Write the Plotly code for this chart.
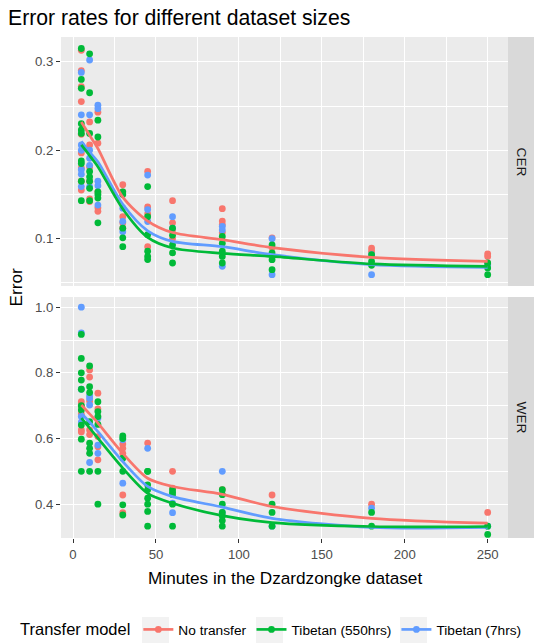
import plotly.graph_objects as go

# ---------------- data ----------------
minutes_curve = [5, 10, 15, 30, 45, 60, 90, 120, 180, 250]
series_names = ["No transfer", "Tibetan (550hrs)", "Tibetan (7hrs)"]
series_colors = ["#F8766D", "#00BA38", "#619CFF"]

# CER points
cer_notr_x = [5]*9 + [10]*6 + [15]*5 + [30]*5 + [45]*4 + [60]*4 + [90]*4 + [120]*2 + [180]*2 + [250]*3
cer_notr_y = [0.313, 0.290, 0.272, 0.255, 0.218, 0.197, 0.180, 0.165, 0.155,
              0.232, 0.206, 0.181, 0.165, 0.145, 0.142,
              0.243, 0.208, 0.153, 0.135, 0.131,
              0.161, 0.153, 0.125, 0.118, 0.112,
              0.176, 0.136, 0.128, 0.091,
              0.143, 0.118, 0.110, 0.100,
              0.134, 0.120, 0.116, 0.107,
              0.101, 0.090,
              0.0895, 0.086,
              0.083, 0.080, 0.072]
cer_t550_x = [5]*10 + [10]*8 + [15]*6 + [30]*5 + [45]*6 + [60]*5 + [90]*5 + [120]*4 + [180]*3 + [250]*3
cer_t550_y = [0.315, 0.280, 0.270, 0.230, 0.223, 0.219, 0.188, 0.185, 0.165, 0.143,
              0.309, 0.265, 0.219, 0.176, 0.170, 0.165, 0.157, 0.143,
              0.234, 0.215, 0.153, 0.150, 0.146, 0.118,
              0.153, 0.150, 0.112, 0.101, 0.091,
              0.159, 0.125, 0.1045, 0.086, 0.080, 0.0765,
              0.112, 0.104, 0.093, 0.084, 0.0726,
              0.1026, 0.095, 0.086, 0.080, 0.0726,
              0.093, 0.084, 0.0763, 0.065,
              0.082, 0.0744, 0.070,
              0.0726, 0.067, 0.0594]
cer_t7_x = [5]*7 + [10]*6 + [15]*5 + [30]*3 + [45]*3 + [60]*2 + [90]*3 + [120]*2 + [180]*2 + [250]*1
cer_t7_y = [0.288, 0.240, 0.206, 0.200, 0.178, 0.173, 0.159,
            0.302, 0.240, 0.200, 0.191, 0.183, 0.159,
            0.251, 0.247, 0.165, 0.160, 0.138,
            0.1345, 0.1195, 0.108,
            0.172, 0.133, 0.1195,
            0.125, 0.112,
            0.114, 0.110, 0.0688,
            0.100, 0.0594,
            0.082, 0.0594,
            0.0707]

# WER points
wer_notr_x = [5]*5 + [10]*5 + [15]*5 + [30]*5 + [45]*1 + [60]*2 + [90]*1 + [120]*1 + [180]*1 + [250]*1
wer_notr_y = [0.712, 0.700, 0.675, 0.626, 0.620,
              0.809, 0.787, 0.714, 0.626, 0.612,
              0.738, 0.690, 0.606, 0.575, 0.535,
              0.583, 0.570, 0.555, 0.428, 0.374,
              0.586,
              0.500, 0.449,
              0.444,
              0.428,
              0.400,
              0.375]
wer_t550_x = [5]*10 + [10]*8 + [15]*6 + [30]*6 + [45]*8 + [60]*5 + [90]*7 + [120]*3 + [180]*2 + [250]*2
wer_t550_y = [0.917, 0.844, 0.800, 0.778, 0.750, 0.700, 0.687, 0.641, 0.598, 0.500,
              0.821, 0.758, 0.740, 0.651, 0.586, 0.570, 0.555, 0.500,
              0.712, 0.682, 0.667, 0.643, 0.500, 0.400,
              0.608, 0.600, 0.540, 0.500, 0.398, 0.367,
              0.500, 0.500, 0.459, 0.444, 0.418, 0.400, 0.378, 0.333,
              0.444, 0.436, 0.429, 0.400, 0.333,
              0.444, 0.429, 0.400, 0.375, 0.364, 0.350, 0.333,
              0.400, 0.375, 0.333,
              0.375, 0.333,
              0.333, 0.308]
wer_t7_x = [5]*5 + [10]*4 + [15]*3 + [30]*2 + [45]*1 + [60]*2 + [90]*2 + [120]*1 + [180]*1 + [250]*1
wer_t7_y = [1.000, 0.922, 0.750, 0.667, 0.650,
            0.730, 0.722, 0.702, 0.527,
            0.662, 0.580, 0.555,
            0.596, 0.464,
            0.570,
            0.403, 0.374,
            0.500, 0.375,
            0.333,
            0.388,
            0.333]

# smoothed (loess) curves
cer_notr_fit = [0.232, 0.217, 0.202, 0.147, 0.120, 0.107, 0.099, 0.090, 0.079, 0.0744]
cer_t550_fit = [0.206, 0.194, 0.1815, 0.1337, 0.1015, 0.0895, 0.0835, 0.080, 0.0715, 0.0688]
cer_t7_fit = [0.210, 0.198, 0.187, 0.139, 0.109, 0.097, 0.091, 0.082, 0.0707, 0.0677]
wer_notr_fit = [0.702, 0.675, 0.647, 0.555, 0.479, 0.454, 0.430, 0.393, 0.357, 0.342]
wer_t550_fit = [0.662, 0.632, 0.601, 0.510, 0.433, 0.403, 0.365, 0.344, 0.332, 0.332]
wer_t7_fit = [0.677, 0.650, 0.621, 0.530, 0.454, 0.423, 0.391, 0.357, 0.329, 0.329]

x_ticks = [0, 50, 100, 150, 200, 250]
cer_ticks = [0.1, 0.2, 0.3]
wer_ticks = [0.4, 0.6, 0.8, 1.0]

# ---------------- figure ----------------
W, H = 544, 644
L, R, T, B = 61, 36, 37, 106
pw, ph = W - L - R, H - T - B
FONT = "Liberation Sans, Arial, Helvetica, sans-serif"

def px_x(px):
    return (px - L) / pw

def px_y(py):
    return (H - B - py) / ph

fig = go.Figure()

cer_pts = [(cer_notr_x, cer_notr_y), (cer_t550_x, cer_t550_y), (cer_t7_x, cer_t7_y)]
wer_pts = [(wer_notr_x, wer_notr_y), (wer_t550_x, wer_t550_y), (wer_t7_x, wer_t7_y)]
cer_fits = [cer_notr_fit, cer_t550_fit, cer_t7_fit]
wer_fits = [wer_notr_fit, wer_t550_fit, wer_t7_fit]

MS = 6.8
LW = 2.7
for i in [0, 2, 1]:
    fig.add_trace(go.Scatter(x=cer_pts[i][0], y=cer_pts[i][1], mode="markers",
                             marker=dict(color=series_colors[i], size=MS),
                             xaxis="x2", yaxis="y2", showlegend=False, hoverinfo="skip"))
    fig.add_trace(go.Scatter(x=wer_pts[i][0], y=wer_pts[i][1], mode="markers",
                             marker=dict(color=series_colors[i], size=MS),
                             xaxis="x", yaxis="y", showlegend=False, hoverinfo="skip"))
for i in [0, 2, 1]:
    fig.add_trace(go.Scatter(x=minutes_curve, y=cer_fits[i], mode="lines",
                             line=dict(color=series_colors[i], width=LW, shape="spline", smoothing=0.8),
                             xaxis="x2", yaxis="y2", showlegend=False, hoverinfo="skip"))
    fig.add_trace(go.Scatter(x=minutes_curve, y=wer_fits[i], mode="lines",
                             line=dict(color=series_colors[i], width=LW, shape="spline", smoothing=0.8),
                             xaxis="x", yaxis="y", showlegend=False, hoverinfo="skip"))

for i in range(3):
    fig.add_trace(go.Scatter(x=[None], y=[None], mode="lines+markers", name=series_names[i],
                             line=dict(color=series_colors[i], width=LW),
                             marker=dict(color=series_colors[i], size=MS),
                             xaxis="x", yaxis="y"))

top_lo = px_y(286)
bot_hi = px_y(297)
xr = [-7.25, 262.25]
tickfont = dict(family=FONT, size=13.2, color="#4D4D4D")
common = dict(showgrid=True, gridcolor="white", gridwidth=1.25, zeroline=False, showline=False,
              tickcolor="#333333", tickwidth=1.1, ticklen=4, tickfont=tickfont)

fig.update_layout(
    width=W, height=H,
    margin=dict(l=L, r=R, t=T, b=B, autoexpand=False),
    paper_bgcolor="white", plot_bgcolor="#EBEBEB",
    font=dict(family=FONT, color="black"),
    xaxis=dict(domain=[0, 1], range=xr, anchor="y", tickvals=x_ticks, ticks="outside",
               minor=dict(showgrid=True, gridcolor="white", gridwidth=0.63, dtick=25, tick0=25, ticks=""),
               **common),
    xaxis2=dict(domain=[0, 1], range=xr, anchor="y2", matches="x", tickvals=x_ticks, ticks="",
                showticklabels=False,
                minor=dict(showgrid=True, gridcolor="white", gridwidth=0.63, dtick=25, tick0=25, ticks=""),
                **common),
    yaxis=dict(domain=[0, bot_hi], range=[0.297, 1.031], anchor="x", tickvals=wer_ticks, tickformat=".1f",
               ticks="outside",
               minor=dict(showgrid=True, gridcolor="white", gridwidth=0.63, dtick=0.1, tick0=0.3, ticks=""),
               **common),
    yaxis2=dict(domain=[top_lo, 1], range=[0.0466, 0.328], anchor="x2", tickvals=cer_ticks, tickformat=".1f",
                ticks="outside",
                minor=dict(showgrid=True, gridcolor="white", gridwidth=0.63, dtick=0.05, tick0=0.05, ticks=""),
                **common),
    showlegend=True,
    legend=dict(orientation="h", x=px_x(18), xanchor="left", y=px_y(630), yanchor="middle",
                bgcolor="rgba(0,0,0,0)", font=dict(family=FONT, size=13.7, color="black"),
                title=dict(text="Transfer model", side="left", font=dict(family=FONT, size=16.5, color="black")),
                itemwidth=30, tracegroupgap=0),
    title=dict(text="Error rates for different dataset sizes", x=8 / W, xanchor="left", xref="container",
               y=1 - 18 / H, yanchor="middle", yref="container",
               font=dict(family=FONT, size=21.2, color="black")),
)

# legend key backgrounds (ggplot style)
for kx in [142, 256, 400]:
    fig.add_shape(type="rect", xref="paper", yref="paper", x0=px_x(kx), x1=px_x(kx + 27),
                  y0=px_y(643), y1=px_y(617), fillcolor="#F2F2F2", line=dict(width=0), layer="below")

# strips
strip_x0, strip_x1 = px_x(508), px_x(534)
for (y0, y1, label) in [(top_lo, 1, "CER"), (0, bot_hi, "WER")]:
    fig.add_shape(type="rect", xref="paper", yref="paper", x0=strip_x0, x1=strip_x1, y0=y0, y1=y1,
                  fillcolor="#D9D9D9", line=dict(width=0), layer="below")
    fig.add_annotation(text=label, xref="paper", yref="paper", x=(strip_x0 + strip_x1) / 2, y=(y0 + y1) / 2,
                       textangle=90, showarrow=False, font=dict(family=FONT, size=13.7, color="#1A1A1A"),
                       xanchor="center", yanchor="middle")

# axis titles
fig.add_annotation(text="Error", xref="paper", yref="paper", x=px_x(15), y=0.5, textangle=-90,
                   showarrow=False, font=dict(family=FONT, size=17.2, color="black"),
                   xanchor="center", yanchor="middle")
fig.add_annotation(text="Minutes in the Dzardzongke dataset", xref="paper", yref="paper",
                   x=0.5, y=px_y(578), showarrow=False, font=dict(family=FONT, size=17.2, color="black"),
                   xanchor="center", yanchor="middle")

fig.write_html("out.html")
